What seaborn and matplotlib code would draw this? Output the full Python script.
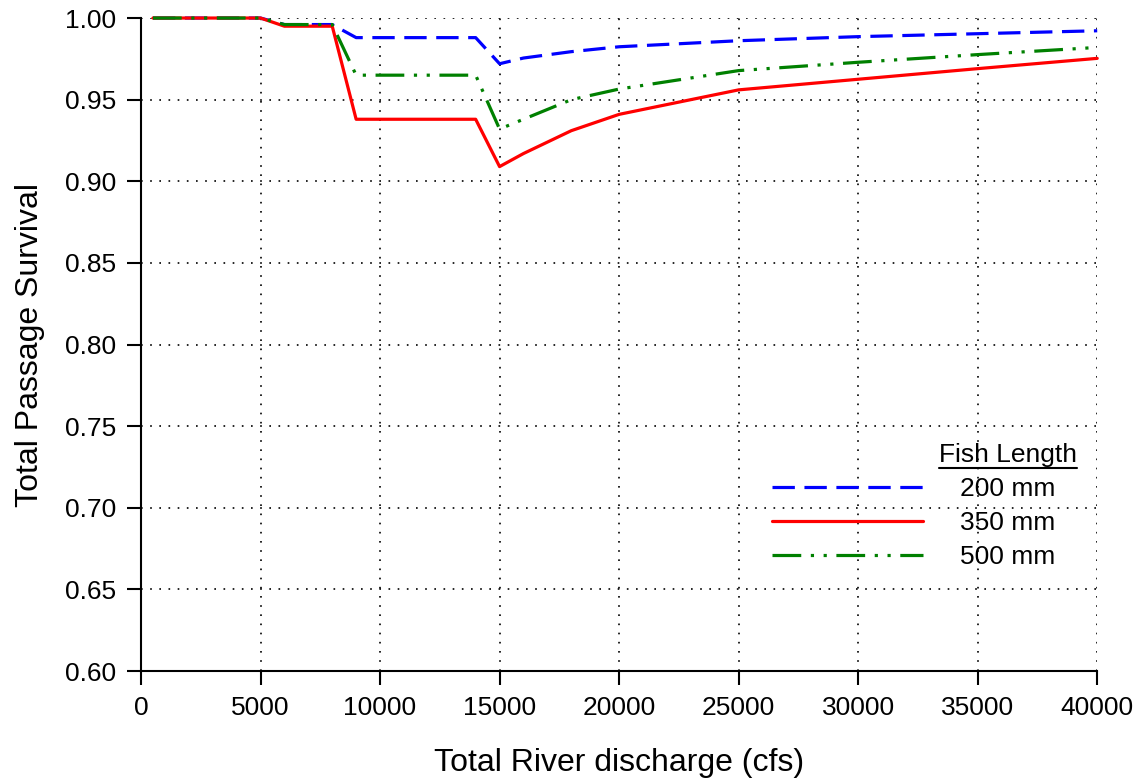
import numpy as np
import pandas as pd
import matplotlib
matplotlib.use("Agg")
import matplotlib.pyplot as plt
from matplotlib.lines import Line2D
import seaborn as sns

# discharge values (cfs)
discharge = [500, 5000, 6000, 8000, 9000, 14000, 15000, 16000, 18000, 20000, 25000, 30000, 35000, 40000]

# survival per fish length
surv_200 = [1.000, 1.000, 0.996, 0.996, 0.988, 0.988, 0.972, 0.9755, 0.9794, 0.9824, 0.9861, 0.9886, 0.9904, 0.9922]
surv_350 = [1.000, 1.000, 0.995, 0.995, 0.938, 0.938, 0.909, 0.917, 0.931, 0.941, 0.956, 0.9625, 0.969, 0.9753]
surv_500 = [1.000, 1.000, 0.996, 0.996, 0.965, 0.965, 0.932, 0.938, 0.950, 0.9565, 0.9678, 0.9729, 0.9776, 0.982]

labels = ["200 mm", "350 mm", "500 mm"]

df = pd.DataFrame({
    "discharge": discharge * 3,
    "survival": surv_200 + surv_350 + surv_500,
    "length": [labels[0]] * len(discharge) + [labels[1]] * len(discharge) + [labels[2]] * len(discharge),
})

sns.set_style("ticks")
plt.rcParams["font.family"] = ["Liberation Sans", "DejaVu Sans"]
plt.rcParams.update({"text.color": "black", "axes.labelcolor": "black",
                     "xtick.color": "black", "ytick.color": "black"})

fig = plt.figure(figsize=(11.37, 7.84), dpi=100)
ax = fig.add_axes([0.124, 0.144, 0.841, 0.833])

colors = {"200 mm": "#0000ff", "350 mm": "#ff0000", "500 mm": "#008000"}
dashes = {"200 mm": (7, 3), "350 mm": "", "500 mm": (9, 3, 1, 3, 1, 3)}

sns.lineplot(data=df, x="discharge", y="survival", hue="length", style="length",
             palette=colors, dashes=dashes, linewidth=2.3, ax=ax, clip_on=False)

ax.set_xlim(0, 40000)
ax.set_ylim(0.6, 1.0)
ax.set_xticks(np.arange(0, 40001, 5000))
ax.set_yticks(np.arange(0.6, 1.001, 0.05))
ax.set_yticklabels([f"{v:.2f}" for v in np.arange(0.6, 1.001, 0.05)])
ax.grid(True, color="black", linestyle=(0, (1, 4.5)), linewidth=1.2)
ax.tick_params(labelsize=19, length=10, width=1.5, color="black", pad=8)
for s in ["top", "right"]:
    ax.spines[s].set_visible(False)
for s in ["left", "bottom"]:
    ax.spines[s].set_linewidth(1.5)
    ax.spines[s].set_color("black")

ax.set_xlabel("Total River discharge (cfs)", fontsize=23, labelpad=20)
ax.set_ylabel("Total Passage Survival", fontsize=23, labelpad=14)

handles, _ = ax.get_legend_handles_labels()
leg = ax.legend(handles, [l + "   " for l in labels], title="Fish Length", frameon=False,
                fontsize=19, title_fontsize=19, handlelength=5.7, labelspacing=0.38,
                handletextpad=1.4, loc="lower right", bbox_to_anchor=(0.99, 0.14),
                borderaxespad=0, alignment="right")

# underline the legend title
fig.canvas.draw()
bb = leg.get_title().get_window_extent().transformed(fig.transFigure.inverted())
fig.add_artist(Line2D([bb.x0, bb.x1], [bb.y0 - 0.001, bb.y0 - 0.001], color="black",
                      linewidth=1.5, transform=fig.transFigure))

fig.savefig("out.png", dpi=100)
